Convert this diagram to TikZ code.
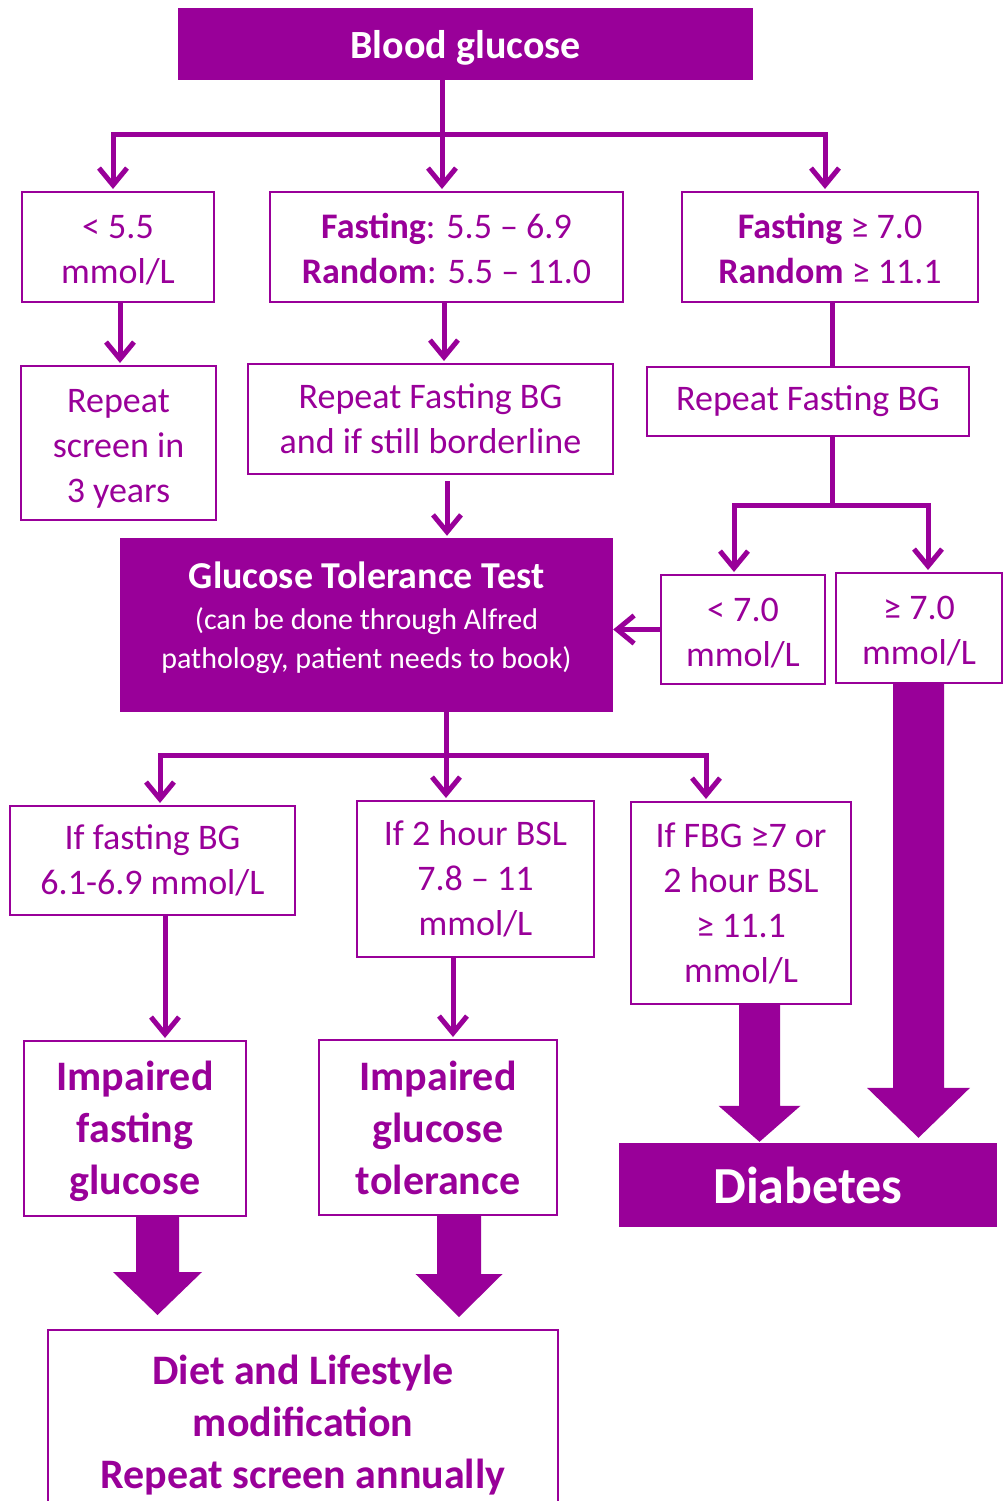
\documentclass[tikz,border=0pt]{standalone}
\usepackage{fontspec}
\setmainfont{Carlito}
\usetikzlibrary{arrows.meta,calc}
\definecolor{pp}{HTML}{990099}
\newcommand\topst[1]{\rule{0pt}{#1pt}}
\tikzset{
  box/.style={draw=pp, line width=2pt, text=pp, align=center, inner sep=0pt, font=\fontsize{36}{45}\selectfont},
  bigbox/.style={box, font=\fontsize{42}{52}\selectfont\bfseries},
  filledbox/.style={fill=pp, text=white, align=center, inner sep=0pt},
  conn/.style={draw=pp, line width=5pt},
  arr/.style={conn, -{Straight Barb[length=17pt,width=28pt]}}
}
\newcommand\fatarrow[6]{%
  \fill[pp] let \p1=#1, \p2=#2 in
    (\x1-#3pt,\y1) -- (\x1+#3pt,\y1) -- (\x1+#3pt,\y2+#6pt+#5pt) -- (\x1+#4pt,\y2+#6pt+#5pt)
    -- (\x1,\y2+#6pt) -- (\x1-#4pt,\y2+#6pt+#5pt) -- (\x1-#3pt,\y2+#6pt+#5pt) -- cycle;}
\begin{document}
\begin{tikzpicture}[x=1pt,y=-1pt]
\useasboundingbox (0,0) rectangle (1005,1501);
% boxes
\node[filledbox, minimum width=575pt, minimum height=72pt, font=\fontsize{40}{48}\selectfont\bfseries] (bg) at (465.5,44) {\topst{36}Blood glucose};
\node[box, minimum width=192pt, minimum height=110pt] (A) at (118,247) {\topst{29}< 5.5\\mmol/L};
\node[box, minimum width=353pt, minimum height=110pt] (B) at (446.5,247) {\topst{29}\textbf{Fasting}: 5.5 – 6.9\\\textbf{Random}: 5.5 – 11.0};
\node[box, minimum width=296pt, minimum height=110pt] (C) at (830,247) {\topst{29}\textbf{Fasting} ≥ 7.0\\\textbf{Random} ≥ 11.1};
\node[box, minimum width=195pt, minimum height=154pt] (D) at (118.5,443) {\topst{34}Repeat\\screen in\\3 years};
\node[box, minimum width=365pt, minimum height=110pt] (E) at (430.5,419) {Repeat Fasting BG\\and if still borderline};
\node[box, minimum width=322pt, minimum height=69pt] (F) at (808,401.5) {Repeat Fasting BG};
\node[filledbox, minimum width=493pt, minimum height=174pt, font=\fontsize{30}{39}\selectfont] (gtt) at (366.5,625)
  {{\fontsize{38}{45}\selectfont\bfseries Glucose Tolerance Test}\\[2pt](can be done through Alfred\\pathology, patient needs to book)\rule[-19pt]{0pt}{1pt}};
\node[box, minimum width=164pt, minimum height=109pt] (G) at (743,629.5) {\topst{30}< 7.0\\mmol/L};
\node[box, minimum width=166pt, minimum height=110pt] (H) at (919,628) {\topst{30}≥ 7.0\\mmol/L};
\node[box, minimum width=285pt, minimum height=109pt] (I) at (152.5,860.5) {If fasting BG\\6.1-6.9 mmol/L};
\node[box, minimum width=237pt, minimum height=156pt] (J) at (475.5,879) {If 2 hour BSL\\7.8 – 11\\mmol/L};
\node[box, minimum width=220pt, minimum height=202pt] (K) at (741,903) {If FBG ≥7 or\\2 hour BSL\\≥ 11.1\\mmol/L};
\node[bigbox, minimum width=222pt, minimum height=175pt] (L) at (135,1128.5) {\topst{36}Impaired\\fasting\\glucose};
\node[bigbox, minimum width=238pt, minimum height=175pt] (M) at (438,1127.5) {Impaired\\glucose\\tolerance};
\node[filledbox, minimum width=378pt, minimum height=84pt, font=\fontsize{52}{60}\selectfont\bfseries] (dia) at (808,1185) {Diabetes};
\node[bigbox, minimum width=510pt, minimum height=184pt] (N) at (303,1422) {\topst{36}Diet and Lifestyle\\modification\\Repeat screen annually};
% junctions
\coordinate (j1) at (442,135);
\coordinate (j2) at (832,505);
\coordinate (j3) at (446,755);
% top fan
\draw[conn] (j1 |- bg.south) -- (j1);
\draw[arr] (j1) -| ([xshift=-5pt,yshift=2pt]A.north);
\draw[arr] (j1) -- ([yshift=2pt]j1 |- B.north);
\draw[arr] (j1) -| ([xshift=-5pt,yshift=2pt]C.north);
% row 2 to row 3
\draw[arr] ([xshift=2pt]A.south) -- ([xshift=2pt,yshift=2pt]A.south |- D.north);
\draw[arr] ([xshift=-2.5pt]B.south) -- ([xshift=-2.5pt,yshift=2pt]B.south |- E.north);
\draw[conn] (j2 |- C.south) -- (j2 |- F.north);
\draw[arr] ([xshift=16.5pt,yshift=-6pt]E.south) -- ([xshift=16.5pt,yshift=2pt]E.south |- gtt.north);
% F fan
\draw[conn] (j2 |- F.south) -- (j2);
\draw[arr] (j2) -| ([xshift=-9pt,yshift=2pt]G.north);
\draw[arr] (j2) -| ([xshift=9pt,yshift=2pt]H.north);
\draw[arr] (G.west) -- (gtt.east |- G.west);
% GTT fan
\draw[conn] (j3 |- gtt.south) -- (j3);
\draw[arr] (j3) -| ([xshift=7.5pt,yshift=2pt]I.north);
\draw[arr] (j3) -- ([yshift=2pt]j3 |- J.north);
\draw[arr] (j3) -| ([xshift=-35pt,yshift=2pt]K.north);
\draw[arr] ([xshift=12.5pt]I.south) -- ([xshift=12.5pt,yshift=2pt]I.south |- L.north);
\draw[arr] ([xshift=-22.5pt]J.south) -- ([xshift=-22.5pt,yshift=2pt]J.south |- M.north);
% fat arrows
\fatarrow{([xshift=-0.5pt]H.south)}{(dia.north)}{25.5}{51.5}{50}{5}
\fatarrow{([xshift=18.5pt]K.south)}{(dia.north)}{20.5}{41}{36}{1}
\fatarrow{([xshift=22.5pt]L.south)}{(N.north)}{21.5}{44.5}{43}{14}
\fatarrow{([xshift=21pt]M.south)}{(N.north)}{22}{43.5}{43}{12}
\end{tikzpicture}
\end{document}
